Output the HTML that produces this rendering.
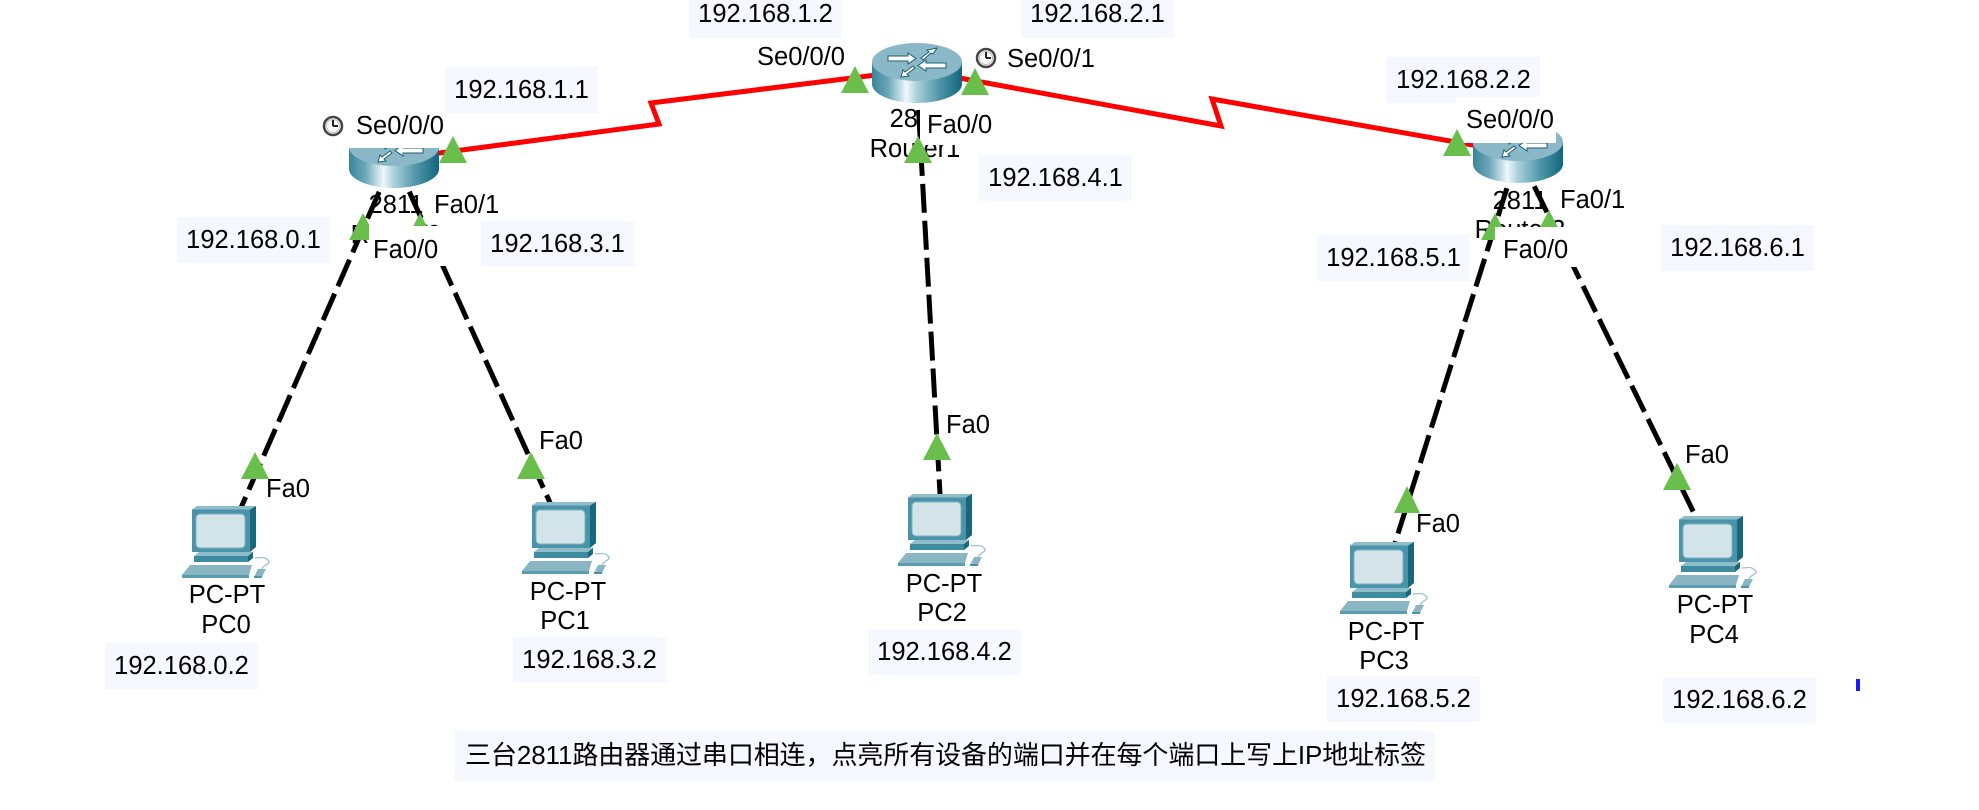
<!DOCTYPE html>
<html>
<head>
<meta charset="utf-8">
<style>
html,body{margin:0;padding:0;background:#fff;}
body{width:1979px;height:810px;overflow:hidden;}
svg{display:block;}
text{font-family:"Liberation Sans","Noto Sans CJK SC",sans-serif;font-size:25.5px;fill:#000;}
</style>
</head>
<body>
<svg width="1979" height="810" viewBox="0 0 1979 810" xmlns="http://www.w3.org/2000/svg">
<defs>
  <linearGradient id="rg" x1="0" x2="1" y1="0" y2="0">
    <stop offset="0" stop-color="#3b8599"/>
    <stop offset="0.18" stop-color="#6aa7b8"/>
    <stop offset="0.38" stop-color="#eef8fa"/>
    <stop offset="0.5" stop-color="#a9d0da"/>
    <stop offset="0.75" stop-color="#4f95a8"/>
    <stop offset="1" stop-color="#12667c"/>
  </linearGradient>
  <g id="router">
    <path d="M0,19 V41 A45,19 0 0 0 90,41 V19 Z" fill="url(#rg)"/>
    <ellipse cx="45" cy="19" rx="45" ry="19" fill="#8bb8c8"/>
    <g fill="#ffffff" stroke="#1d5f73" stroke-width="1">
      <polygon points="16,13 36,13 36,10 44,15.5 36,21 36,18 16,18"/>
      <polygon points="74,20 54,20 54,17 46,22.5 54,28 54,25 74,25"/>
      <polygon points="49,15 57,9 55,7 65,5 61,11 59,10 51,17"/>
      <polygon points="41,23 33,29 31,27 29,34 37,33 35,31 43,25"/>
    </g>
  </g>
  <g id="pc">
    <polygon points="10,3.5 15,0 74,0 68,3.5" fill="#8fbccb"/>
    <rect x="10" y="3.5" width="58" height="42.5" fill="#4a93a8"/>
    <polygon points="68,3.5 74,0 74,41 68,46" fill="#17677d"/>
    <rect x="14" y="8" width="49" height="34" rx="4" fill="#d3e3ea" stroke="#7fb3c3" stroke-width="1"/>
    <polygon points="12,50 17,46 71,46 66,50" fill="#8fbccb"/>
    <rect x="12" y="50" width="54" height="6" fill="#3f8ca1"/>
    <polygon points="66,50 71,46 71,52 66,56" fill="#17677d"/>
    <polygon points="0,69 8,59 70,59 67,69" fill="#8ab6c4"/>
    <rect x="0" y="69" width="67" height="3" fill="#5a9db0"/>
    <polygon points="72,71 76,63 84,63 80,71" fill="#8ab6c4"/>
    <rect x="72" y="70" width="8" height="2" fill="#4a93a8"/>
    <path d="M80,63 C82,58 90,58 86,54 S77,52 73,52" stroke="#9cc4d0" stroke-width="1.3" fill="none"/>
  </g>
  <g id="clock">
    <circle cx="0" cy="0" r="9" fill="#fff" stroke="#444" stroke-width="2.5"/>
    <circle cx="0" cy="0" r="6.5" fill="none" stroke="#bbb" stroke-width="1"/>
    <line x1="0" y1="0" x2="0" y2="-6" stroke="#222" stroke-width="2"/>
    <line x1="0" y1="0" x2="5" y2="0" stroke="#222" stroke-width="2"/>
  </g>
</defs>

<!-- IP label boxes -->
<g fill="#f5f8fe">
  <rect x="689" y="-8" width="153" height="46"/>
  <rect x="1021" y="-8" width="153" height="46"/>
  <rect x="445" y="67" width="153" height="46"/>
  <rect x="1387" y="57" width="153" height="46"/>
  <rect x="177" y="217" width="153" height="46"/>
  <rect x="481" y="221" width="153" height="46"/>
  <rect x="979" y="155" width="153" height="46"/>
  <rect x="1317" y="235" width="153" height="46"/>
  <rect x="1661" y="225" width="153" height="46"/>
  <rect x="105" y="643" width="153" height="46"/>
  <rect x="513" y="637" width="153" height="46"/>
  <rect x="868" y="629" width="153" height="46"/>
  <rect x="1327" y="676" width="153" height="46"/>
  <rect x="1663" y="677" width="153" height="46"/>
  <rect x="455" y="731" width="980" height="50"/>
</g>
<g text-anchor="middle">
  <text x="765.5" y="22">192.168.1.2</text>
  <text x="1097.5" y="22">192.168.2.1</text>
  <text x="521.5" y="98">192.168.1.1</text>
  <text x="1463.5" y="88">192.168.2.2</text>
  <text x="253.5" y="248">192.168.0.1</text>
  <text x="557.5" y="252">192.168.3.1</text>
  <text x="1055.5" y="186">192.168.4.1</text>
  <text x="1393.5" y="266">192.168.5.1</text>
  <text x="1737.5" y="256">192.168.6.1</text>
  <text x="181.5" y="674">192.168.0.2</text>
  <text x="589.5" y="668">192.168.3.2</text>
  <text x="944.5" y="660">192.168.4.2</text>
  <text x="1403.5" y="707">192.168.5.2</text>
  <text x="1739.5" y="708">192.168.6.2</text>
</g>
<text x="465" y="764" style="font-size:26px" textLength="961" lengthAdjust="spacing">三台2811路由器通过串口相连，点亮所有设备的端口并在每个端口上写上IP地址标签</text>

<!-- Links -->
<polyline points="394,159 659,124 651,103 916,70" fill="none" stroke="#ff0000" stroke-width="5"/>
<polyline points="916,70 1221,126 1212,99 1518,153" fill="none" stroke="#ff0000" stroke-width="5"/>
<g stroke="#000" stroke-width="5" stroke-dasharray="29 8" fill="none">
  <line x1="394" y1="158" x2="226" y2="542"/>
  <line x1="394" y1="158" x2="566" y2="538"/>
  <line x1="916.5" y1="73" x2="942" y2="530"/>
  <line x1="1518" y1="153" x2="1384" y2="578"/>
  <line x1="1518" y1="153" x2="1713" y2="552"/>
</g>

<!-- Devices -->
<use href="#router" x="349" y="128"/>
<use href="#router" x="872" y="43"/>
<use href="#router" x="1473" y="123"/>
<use href="#pc" x="182" y="506"/>
<use href="#pc" x="522" y="502"/>
<use href="#pc" x="898" y="494"/>
<use href="#pc" x="1340" y="542"/>
<use href="#pc" x="1669" y="516"/>

<!-- router name labels (partly covered) -->
<g text-anchor="middle">
  <text x="396" y="213">2811</text>
  <text x="396" y="243">Router0</text>
  <text x="917" y="127">2811</text>
  <text x="915" y="157">Router1</text>
  <text x="1520" y="209">2811</text>
  <text x="1520" y="238">Router2</text>
</g>

<!-- triangles under boxes -->
<g fill="#6abf4c">
  <polygon points="363,213 349,240 377,240"/>
  <polygon points="420,213 406,240 434,240"/>
  <polygon points="1495,213 1481,240 1509,240"/>
  <polygon points="1549,210 1535,237 1563,237"/>
</g>

<!-- white label backgrounds -->
<g fill="#ffffff">
  <rect x="320" y="113" width="133" height="35"/>
  <rect x="369" y="226" width="78" height="40"/>
  <rect x="920" y="105" width="78" height="40"/>
  <rect x="1456" y="97" width="100" height="46"/>
  <rect x="1495" y="227" width="82" height="40"/>
</g>

<!-- other triangles -->
<g fill="#6abf4c">
  <polygon points="453,136 439,163 467,163"/>
  <polygon points="855,66 841,93 869,93"/>
  <polygon points="975,68 961,95 989,95"/>
  <polygon points="1457,129 1443,156 1471,156"/>
  <polygon points="918,136 904,163 932,163"/>
  <polygon points="255,452 241,479 269,479"/>
  <polygon points="531,452 517,479 545,479"/>
  <polygon points="937,433 923,460 951,460"/>
  <polygon points="1407,486 1394,513 1420,513"/>
  <polygon points="1677,463 1663,490 1691,490"/>
</g>

<!-- clocks -->
<use href="#clock" x="333" y="126"/>
<use href="#clock" x="986" y="58"/>

<!-- port labels -->
<text x="356" y="134">Se0/0/0</text>
<text x="434" y="213">Fa0/1</text>
<text x="373" y="258">Fa0/0</text>
<text x="757" y="65">Se0/0/0</text>
<text x="1007" y="67">Se0/0/1</text>
<text x="927" y="133">Fa0/0</text>
<text x="1466" y="128">Se0/0/0</text>
<text x="1560" y="208">Fa0/1</text>
<text x="1503" y="258">Fa0/0</text>
<text x="266" y="497">Fa0</text>
<text x="539" y="449">Fa0</text>
<text x="946" y="433">Fa0</text>
<text x="1416" y="532">Fa0</text>
<text x="1685" y="463">Fa0</text>

<!-- PC labels -->
<g text-anchor="middle">
  <text x="227" y="603">PC-PT</text>
  <text x="226" y="633">PC0</text>
  <text x="568" y="600">PC-PT</text>
  <text x="565" y="629">PC1</text>
  <text x="944" y="592">PC-PT</text>
  <text x="942" y="621">PC2</text>
  <text x="1386" y="640">PC-PT</text>
  <text x="1384" y="669">PC3</text>
  <text x="1715" y="613">PC-PT</text>
  <text x="1714" y="643">PC4</text>
</g>

<rect x="1856" y="679" width="4" height="12" fill="#1a1aff"/>
</svg>
</body>
</html>
